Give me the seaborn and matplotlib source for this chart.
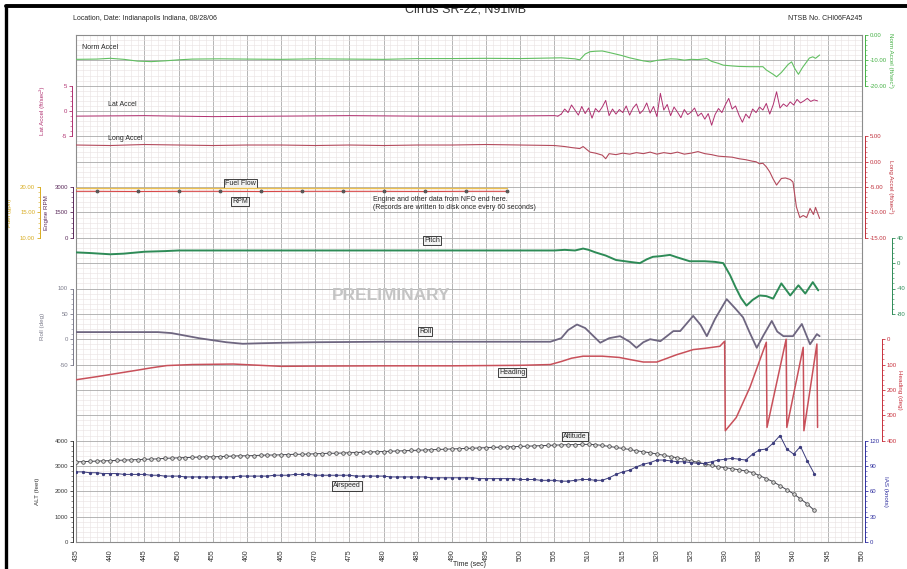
import numpy as np
import matplotlib
matplotlib.use('Agg')
import matplotlib.pyplot as plt
from matplotlib.lines import Line2D
from matplotlib.ticker import MultipleLocator
import seaborn as sns

# ---------------- data ----------------
time_ticks = list(range(435, 551, 5))

# normal accel (ft/sec^2)
norm_t = [435, 438, 440, 442, 444, 446, 448, 450, 452, 456, 460, 465, 470, 475, 480,
          485, 490, 495, 500, 504, 506, 508, 508.7, 509.5, 510.2, 511, 512, 513, 514.1,
          515, 516, 517, 518, 519, 520, 521, 522, 522.9, 524, 525, 526, 527.3, 528, 529,
          529.7, 531, 532, 533.6, 535.5, 536, 537, 537.5, 538.2, 538.7, 539.2, 539.7,
          540.2, 540.7, 541.3, 541.9, 542.3, 542.8, 543.2, 543.8]
norm_v = [-9.6, -9.5, -9.2, -9.6, -10.3, -10.5, -10.2, -9.8, -9.5, -9.4, -9.5, -9.6, -9.4,
          -9.5, -9.6, -9.3, -9.3, -9.2, -9.3, -9.1, -9.0, -9.4, -9.8, -7.5, -6.6, -6.4,
          -6.3, -6.9, -7.6, -8.2, -9.0, -9.6, -10.2, -10.6, -10.0, -9.7, -9.4, -9.5, -9.9,
          -9.6, -9.7, -9.3, -10.4, -11.2, -11.9, -12.2, -12.4, -12.5, -12.5, -13.8, -15.5,
          -16.5, -14.8, -13.2, -11.6, -10.6, -13.4, -15.5, -12.8, -10.6, -9.1, -8.6, -9.2,
          -7.9]

# lateral accel (ft/sec^2): quiet part, then 0.5 s samples from 506 s
lat_quiet_t = [435, 445, 455, 465, 475, 485, 495, 505, 505.5]
lat_quiet_v = [-1.0, -0.9, -1.1, -1.0, -0.9, -1.0, -1.0, -0.9, -1.0]
lat_noisy_t = np.arange(506, 544, 0.5)
lat_noisy_v = [-0.6, 0.4, -0.3, 1.2, 0.2, -0.8, 0.9, -0.5, 0.6, -1.4,
               0.5, -0.2, 0.8, 2.1, -0.9, 0.4, -0.6, 0.3, -0.3, 1.0,
               -0.8, 0.6, 1.4, -0.5, 0.2, 1.6, -0.4, 0.9, -1.1, 3.5,
               0.2, 1.3, -0.9, 0.8, -0.2, -1.3, 0.3, -0.7, -0.2, 0.6,
               -1.0, -0.4, -1.6, -0.5, -2.8, -0.7, 0.5, -0.3, 1.2, 2.5,
               0.4, 1.0, -0.8, -2.2, -0.6, -1.4, 0.4, -0.3, 0.8, 0.2,
               1.5, -0.6, 1.2, 3.8, 0.6, 1.4, 0.9, 1.8, 1.2, 2.3,
               1.6, 2.0, 2.5, 1.9, 2.2, 2.0]

# longitudinal accel (ft/sec^2)
long_t = [435, 440, 445, 450, 455, 460, 465, 470, 475, 480, 485, 490, 495, 500, 505,
          506.5, 507.5, 508.7, 509.2, 510.2, 511, 512, 512.5, 513, 514, 515, 516, 517,
          518, 519, 520, 521, 522, 523, 524, 525, 526, 527, 528, 529, 530, 531, 532, 533,
          534, 534.5, 535, 535.5, 536, 536.5, 537, 537.5, 538.2, 538.8, 539.5, 539.9,
          540.4, 540.9, 541.4, 541.9, 542.4, 542.9, 543.2, 543.8]
long_v = [3.3, 3.2, 3.4, 3.3, 3.2, 3.3, 3.3, 3.2, 3.3, 3.2, 3.3, 3.3, 3.4, 3.3, 3.2,
          3.0, 2.8, 2.6, 3.0, 1.9, 1.7, 1.3, 0.6, 1.6, 1.4, 1.7, 1.5, 1.8, 1.6, 1.9, 1.5,
          1.8, 1.6, 1.9, 1.5, 1.7, 2.0, 1.6, 1.4, 1.1, 1.0, 0.9, 0.6, 0.4, 0.1, 0.0, -0.4,
          -0.3, -1.0, -2.0, -3.4, -4.6, -3.3, -3.2, -3.5, -4.0, -8.9, -11.0, -10.6, -11.0,
          -9.2, -10.4, -9.0, -11.2]

# engine data (recorded every 6 s, ends at 498 s)
eng_t = [435, 438, 444, 450, 456, 462, 468, 474, 480, 486, 492, 498]
fuel_v = [19.8, 19.8, 19.8, 19.8, 19.8, 19.8, 19.8, 19.8, 19.8, 19.8, 19.8, 19.8]
rpm_v = [2750, 2750, 2740, 2750, 2750, 2740, 2750, 2750, 2750, 2740, 2750, 2750]

# pitch (deg)
pitch_t = [435, 437, 440, 442, 445, 448, 450, 460, 470, 480, 490, 500, 505, 506.5, 508,
           509.2, 510, 511, 512.5, 514, 516, 517.5, 518.5, 519.4, 520.5, 521.9, 523,
           524.8, 527, 528.5, 529.7, 530.7, 531.5, 532.3, 533.1, 534, 535, 536, 537,
           538.2, 539.5, 540.7, 541.7, 542.8, 543.6]
pitch_v = [17, 16, 14, 15, 18, 19, 20, 20, 20, 20, 20, 20, 20, 21, 20, 23, 21, 17, 12, 5,
           2, 0, 6, 10, 11, 13, 9, 3, 3, 2, 0, -19, -38, -55, -67, -58, -51, -52, -56,
           -32, -51, -35, -48, -30, -43]

# roll (deg)
roll_t = [435, 440, 445, 447, 449, 451, 453, 455, 457, 459.4, 462, 465.3, 470, 480, 490,
          500, 504.4, 506, 507, 508.3, 509.5, 511.7, 513, 514.6, 516, 517, 518, 519,
          520.5, 522.4, 523.4, 525.3, 526.4, 527.3, 528.5, 530.2, 531.5, 532.6, 533.5,
          534.6, 535.6, 536.8, 537.6, 538.5, 539.9, 541.2, 542.4, 543.4, 543.8]
roll_v = [14, 14, 14, 14, 12, 7, 2, -2, -6, -9, -8, -7, -6, -5, -5, -5, -5, 2, 18, 29, 22,
          -7, 2, 6, -5, -17, -6, 0, -4, 16, 16, 46, 28, 6, 40, 79, 60, 43, 15, -17, 8, 36,
          15, 6, 6, 30, -10, 10, 6]

# heading (deg), wraps through 360
head_t = [435, 438, 441, 444, 446, 448.3, 452, 458, 465, 470, 480, 490, 500, 504.4, 506,
          507.5, 509.2, 512, 514.5, 516, 518, 520, 521.5, 522.9, 524, 525.3, 527, 529.2,
          529.9, 530.0, 531.6, 533.6, 536.0, 536.1, 538.9, 539.0, 541.4, 541.5, 543.4,
          543.5]
head_v = [160, 148, 135, 122, 113, 104, 100, 98, 107, 106, 105, 105, 103, 100, 88, 75, 67,
          67, 72, 80, 90, 90, 75, 61, 52, 41, 36, 28, 8, 361, 309, 190, 12, 348, 0, 348,
          32, 361, 19, 348]

# altitude (ft) and IAS (kt), one sample per second 435..543
air_t = np.arange(435, 544)
alt_v = [3160, 3170, 3180, 3190, 3200, 3210, 3220, 3230, 3240, 3250,
         3260, 3270, 3280, 3300, 3310, 3320, 3330, 3340, 3350, 3360,
         3360, 3370, 3380, 3390, 3400, 3400, 3410, 3420, 3430, 3430,
         3440, 3450, 3460, 3460, 3470, 3480, 3490, 3500, 3500, 3510,
         3520, 3530, 3540, 3550, 3560, 3570, 3580, 3590, 3600, 3610,
         3620, 3630, 3640, 3650, 3660, 3670, 3680, 3690, 3700, 3710,
         3720, 3730, 3740, 3750, 3760, 3770, 3780, 3790, 3800, 3810,
         3820, 3830, 3840, 3840, 3850, 3850, 3840, 3810, 3770, 3730,
         3690, 3650, 3600, 3560, 3520, 3470, 3420, 3370, 3320, 3260,
         3200, 3140, 3080, 3020, 2970, 2930, 2890, 2850, 2800, 2740,
         2620, 2500, 2380, 2220, 2060, 1900, 1700, 1500, 1250]
ias_v = [83, 83, 82, 82, 81, 81, 81, 80, 80, 80,
         80, 79, 79, 78, 78, 78, 77, 77, 77, 77,
         77, 77, 77, 77, 78, 78, 78, 78, 78, 79,
         79, 79, 80, 80, 80, 79, 79, 79, 79, 79,
         79, 78, 78, 78, 78, 78, 77, 77, 77, 77,
         77, 77, 76, 76, 76, 76, 76, 76, 76, 75,
         75, 75, 75, 75, 75, 74, 74, 74, 73, 73,
         73, 72, 72, 73, 74, 74, 73, 73, 76, 80,
         83, 85, 89, 92, 94, 97, 97, 96, 95, 95,
         94, 93, 93, 95, 97, 98, 99, 98, 97, 104,
         109, 110, 117, 126, 110, 104, 113, 96, 81]

# ---------------- figure ----------------
sns.set_style('white')
plt.rcParams['font.family'] = ['Liberation Sans', 'DejaVu Sans']

W, H = 907, 569
fig = plt.figure(figsize=(W / 100, H / 100), dpi=100)
L, R, T, B = 76, 862, 35, 542
RECT = [L / W, 1 - B / H, (R - L) / W, (B - T) / H]
NROWS = 20  # one grid row per major division

ax0 = fig.add_axes(RECT)
ax0.set_xlim(435, 550)
ax0.set_ylim(0, NROWS)
ax0.xaxis.set_major_locator(MultipleLocator(5))
ax0.xaxis.set_minor_locator(MultipleLocator(1))
ax0.yaxis.set_major_locator(MultipleLocator(1))
ax0.yaxis.set_minor_locator(MultipleLocator(0.2))
ax0.grid(which='major', color='#a9a9a9', lw=0.6)
ax0.grid(which='minor', color='#e9e2e2', lw=0.4)
ax0.set_axisbelow(True)
ax0.set_xticks(time_ticks)
ax0.set_xticklabels([str(t) for t in time_ticks], rotation=90, fontsize=5, color='#333333')
ax0.tick_params(axis='x', which='major', length=3, width=0.5, pad=2, color='#777777')
ax0.tick_params(axis='x', which='minor', length=1.5, width=0.4, color='#777777')
ax0.tick_params(axis='y', which='both', length=0, labelleft=False)
for sp in ax0.spines.values():
    sp.set_color('#8c8c8c')
    sp.set_linewidth(0.8)


def overlay(side, va, ra, vb, rb, ticks, labels, color, offset, label, label_x, label_row):
    ax = fig.add_axes(RECT)
    ax.patch.set_visible(False)
    ax.set_xlim(435, 550)
    s = (vb - va) / (rb - ra)
    ax.set_ylim(va - ra * s, va + (NROWS - ra) * s)
    for sp in ax.spines.values():
        sp.set_visible(False)
    sp = ax.spines[side]
    sp.set_visible(True)
    sp.set_color(color)
    sp.set_linewidth(0.7)
    sp.set_bounds(min(ticks), max(ticks))
    sp.set_position(('outward', offset * 0.72))
    ax.xaxis.set_visible(False)
    ax.yaxis.set_ticks_position(side)
    ax.yaxis.set_label_position(side)
    ax.set_yticks(ticks)
    ax.set_yticklabels(labels, fontsize=4.3, color=color)
    ax.set_yticks(np.linspace(min(ticks), max(ticks), 5 * (len(ticks) - 1) + 1), minor=True)
    ax.tick_params(axis='y', which='major', length=2.5, width=0.6, color=color, pad=1)
    ax.tick_params(axis='y', which='minor', length=1.3, width=0.4, color=color)
    if label:
        ax.set_ylabel(label, fontsize=4.5, color=color, rotation=90 if side == 'left' else -90)
        ax.yaxis.set_label_coords((label_x - L) / (R - L), label_row / NROWS)
    return ax


ax_norm = overlay('right', 0, 20, -20, 18, [0, -10, -20], ['0.00', '-10.00', '-20.00'],
                  '#44b044', 3, 'Norm Accel (ft/sec²)', 894, 19)
ax_lat = overlay('left', 5, 18, -5, 16, [5, 0, -5], ['5', '0', '-5'],
                 '#b03070', 4, 'Lat Accel (ft/sec²)', 45, 17)
ax_long = overlay('right', 5, 16, -15, 12, [5, 0, -5, -10, -15],
                  ['5.00', '0.00', '-5.00', '-10.00', '-15.00'],
                  '#c0303c', 3, 'Long Accel (ft/sec²)', 894, 14)
ax_fuel = overlay('left', 20, 14, 10, 12, [20, 15, 10], ['20.00', '15.00', '10.00'],
                  '#d8ac20', 36, 'Fuel (gph)', 12, 13)
ax_rpm = overlay('left', 3000, 14, 0, 12, [3000, 1500, 0], ['3000', '1500', '0'],
                 '#5a2a5a', 3, 'Engine RPM', 49, 13)
ax_pitch = overlay('right', 40, 12, -80, 9, [40, 0, -40, -80], ['40', '0', '-40', '-80'],
                   '#2e8b57', 30, None, 0, 0)
ax_roll = overlay('left', 100, 10, -50, 7, [100, 50, 0, -50], ['100', '50', '0', '-50'],
                  '#7a7a8a', 3, 'Roll (deg)', 45, 8.5)
ax_head = overlay('right', 0, 8, 400, 4, [0, 100, 200, 300, 400],
                  ['0', '100', '200', '300', '400'],
                  '#c8303c', 20, 'Heading (deg)', 902, 6)
ax_alt = overlay('left', 4000, 4, 0, 0, [4000, 3000, 2000, 1000, 0],
                 ['4000', '3000', '2000', '1000', '0'],
                 '#3a3a3a', 3, 'ALT (feet)', 40, 2)
ax_ias = overlay('right', 120, 4, 0, 0, [120, 90, 60, 30, 0],
                 ['120', '90', '60', '30', '0'],
                 '#3030a0', 3, 'IAS (knots)', 888, 2)

kw = dict(estimator=None, sort=False, legend=False)
sns.lineplot(x=norm_t, y=norm_v, ax=ax_norm, color='#62bf62', lw=0.8, **kw)
sns.lineplot(x=lat_quiet_t, y=lat_quiet_v, ax=ax_lat, color='#b03070', lw=0.7, **kw)
sns.lineplot(x=list(lat_noisy_t), y=lat_noisy_v, ax=ax_lat, color='#b03070', lw=0.7, **kw)
sns.lineplot(x=[505.5, 506], y=[lat_quiet_v[-1], lat_noisy_v[0]], ax=ax_lat,
             color='#b03070', lw=0.7, **kw)
sns.lineplot(x=long_t, y=long_v, ax=ax_long, color='#b34a5c', lw=0.8, **kw)
sns.lineplot(x=eng_t, y=fuel_v, ax=ax_fuel, color='#ecc050', lw=1.0, **kw)
sns.lineplot(x=eng_t, y=rpm_v, ax=ax_rpm, color='#d84848', lw=0.8, marker='o',
             markersize=2, markeredgecolor='#555555', markerfacecolor='#555555',
             markevery=list(range(1, len(eng_t))), **kw)
sns.lineplot(x=pitch_t, y=pitch_v, ax=ax_pitch, color='#2e8b57', lw=1.4, **kw)
sns.lineplot(x=roll_t, y=roll_v, ax=ax_roll, color='#6e6680', lw=1.3, **kw)
sns.lineplot(x=head_t, y=head_v, ax=ax_head, color='#c8505a', lw=1.1, **kw)
sns.lineplot(x=list(air_t), y=alt_v, ax=ax_alt, color='#454550', lw=0.7, marker='o',
             markersize=2.6, markerfacecolor='#cfcfcf', markeredgecolor='#404040',
             markeredgewidth=0.5, **kw)
sns.lineplot(x=list(air_t), y=ias_v, ax=ax_ias, color='#3c3c7c', lw=0.7, marker='o',
             markersize=1.6, markerfacecolor='#3c3c7c', markeredgecolor='#3c3c7c', **kw)

# ---------------- annotations ----------------
box = dict(boxstyle='square,pad=0.15', fc='#f2f2f2', ec='#222222', lw=0.6)
ax0.text(435.9, 19.5, 'Norm Accel', fontsize=5, va='center')
ax0.text(439.7, 17.25, 'Lat Accel', fontsize=5, va='center')
ax0.text(439.7, 15.9, 'Long Accel', fontsize=5, va='center')
ax0.text(459.1, 14.13, 'Fuel Flow', fontsize=5, ha='center', va='center', bbox=box)
ax0.text(459.0, 13.42, 'RPM', fontsize=5, ha='center', va='center', bbox=box)
ax0.text(478.5, 13.35, 'Engine and other data from NFO end here.\n'
         '(Records are written to disk once every 60 seconds)',
         fontsize=5, va='center', linespacing=1.1)
ax0.text(487.1, 11.88, 'Pitch', fontsize=5, ha='center', va='center', bbox=box)
ax0.text(481.1, 9.71, 'PRELIMINARY', fontsize=12.5, ha='center', va='center',
         color='#c4c4c4', fontweight='bold')
ax0.text(486.1, 8.29, 'Roll', fontsize=5, ha='center', va='center', bbox=box)
ax0.text(498.8, 6.67, 'Heading', fontsize=5, ha='center', va='center', bbox=box)
ax0.text(508.0, 4.15, 'Altitude', fontsize=5, ha='center', va='center', bbox=box)
ax0.text(474.6, 2.21, 'Airspeed', fontsize=5, ha='center', va='center', bbox=box)

fig.text(73 / W, 1 - 19 / H, 'Location, Date: Indianapolis Indiana, 08/28/06',
         fontsize=5, va='center')
fig.text(862 / W, 1 - 19 / H, 'NTSB No. CHI06FA245', fontsize=5, ha='right', va='center')
fig.text(466 / W, 1 - 9 / H, 'Cirrus SR-22, N91MB', fontsize=9, ha='center',
         va='center', color='#333333')
fig.text(470 / W, 1 - 565 / H, 'Time (sec)', fontsize=5, ha='center', va='center')

# scanned page frame
fig.add_artist(Line2D([6 / W, 1], [1 - 6 / H, 1 - 6 / H], color='black', lw=2.8, zorder=10))
fig.add_artist(Line2D([6 / W, 6 / W], [0, 1 - 6 / H], color='black', lw=2.4, zorder=10))

fig.savefig('out.png', dpi=100)
